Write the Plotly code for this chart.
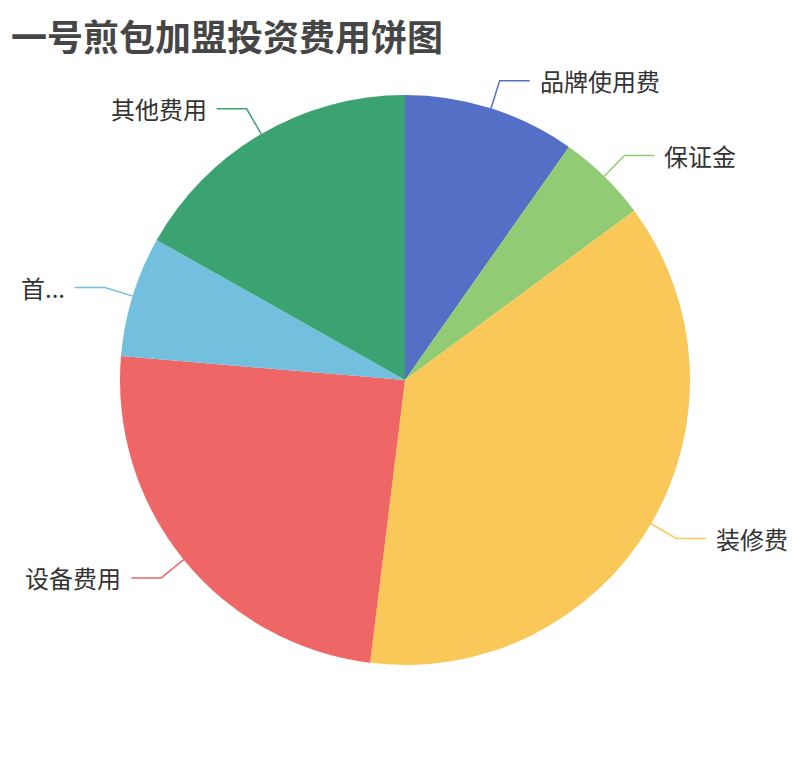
import math
import plotly.graph_objects as go

# ---- data ----
categories = ["品牌使用费", "保证金", "装修费", "设备费用", "首批进货费", "其他费用"]
display_labels = ["品牌使用费", "保证金", "装修费", "设备费用", "首...", "其他费用"]
values = [4, 2.1, 15.2, 10, 2.8, 6.9]
colors = ["#5470c6", "#91cc75", "#fac858", "#ee6666", "#73c0de", "#3ba272"]
title_text = "一号煎包加盟投资费用饼图"

OFF = 8  # page body margin
W, H = 810 - OFF, 760 - OFF
CX, CY, R = 405 - OFF, 380 - OFF, 285
LEN1, LEN2, GAP = 29, 30, 8

fig = go.Figure()
fig.add_trace(go.Pie(
    labels=categories, values=values, sort=False, direction="clockwise",
    rotation=0, textinfo="none", hoverinfo="label+value+percent",
    marker=dict(colors=colors, line=dict(width=0)),
    domain=dict(x=[(CX - R) / W, (CX + R) / W], y=[1 - (CY + R) / H, 1 - (CY - R) / H]),
    showlegend=False,
))

def px(x):
    return x / W

def py(y):
    return 1 - y / H

total = sum(values)
cum = 0.0
shapes, annotations = [], []
for lab, v, c in zip(display_labels, values, colors):
    mid = (cum + v / 2) / total * 2 * math.pi
    cum += v
    s, co = math.sin(mid), math.cos(mid)
    x0, y0 = CX + R * s, CY - R * co
    x1, y1 = CX + (R + LEN1) * s, CY - (R + LEN1) * co
    side = 1 if s >= 0 else -1
    x2 = x1 + side * LEN2
    path = f"M {px(x0)} {py(y0)} L {px(x1)} {py(y1)} L {px(x2)} {py(y1)}"
    shapes.append(dict(type="path", path=path, xref="paper", yref="paper",
                       line=dict(color=c, width=1.5)))
    annotations.append(dict(
        x=px(x2 + side * GAP), y=py(y1), xref="paper", yref="paper",
        text=lab, showarrow=False, xanchor="left" if side > 0 else "right",
        yanchor="middle", font=dict(size=24, color="#333333",
                                     family="Noto Sans CJK SC")))

annotations.append(dict(
    x=px(10 - OFF), y=1, xref="paper", yref="paper", xanchor="left", yanchor="top",
    text="<b>" + title_text + "</b>", showarrow=False, borderpad=0,
    font=dict(size=36, color="#464646", family="Noto Sans CJK SC")))

fig.update_layout(
    width=W, height=H, margin=dict(l=0, r=0, t=0, b=0),
    paper_bgcolor="white", plot_bgcolor="white",
    shapes=shapes, annotations=annotations,
)
fig.write_html("out.html")
